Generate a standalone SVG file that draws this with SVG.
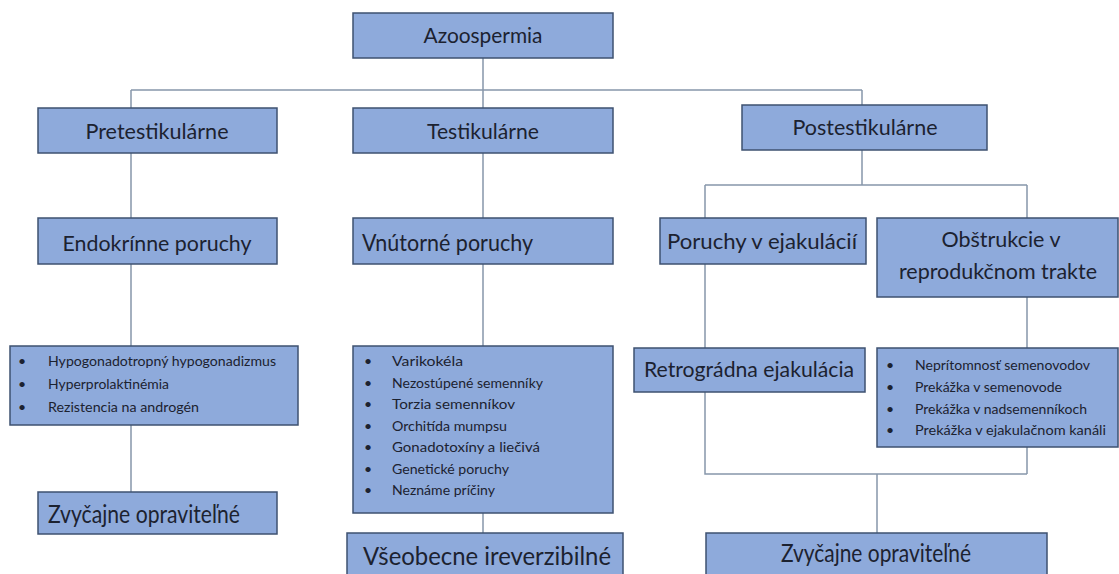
<svg xmlns="http://www.w3.org/2000/svg" width="1119" height="574" viewBox="0 0 1119 574">
<style>
.box{fill:#8eaadb;stroke:#3e5170;stroke-width:1.5}
.ln{fill:none;stroke:#8797ab;stroke-width:1.5}
text{font-family:Lato,"Liberation Sans",sans-serif;fill:#1c2230}
.h1{font-size:21px;text-anchor:middle}
.h2{font-size:22px;text-anchor:middle}
.h2l{font-size:23px}
.h3{font-size:25px;text-anchor:middle}
.h3l{font-size:25px}
.li{font-size:14px}
.bu{font-size:14px;text-anchor:middle}
</style>
<rect width="1119" height="574" fill="#ffffff"/>
<g id="connectors">
<path class="ln" d="M483,58V90M131,90H862M131,90V108M483,90V108M862,90V105"/>
<path class="ln" d="M131,153V218M131,264V346M131,425V492"/>
<path class="ln" d="M483,153V218M483,264V346M483,513V533"/>
<path class="ln" d="M862,150V185M705,185H1027M705,185V218M1027,185V218"/>
<path class="ln" d="M705,264V474H1027M1027,297V348M1027,447V474M877,474V533"/>
</g>
<g id="azoospermia"><rect class="box" x="353" y="13" width="260" height="45"/><text class="h1" x="483" y="43" textLength="119" lengthAdjust="spacingAndGlyphs">Azoospermia</text></g>
<g id="pretestikularne"><rect class="box" x="38" y="108" width="239" height="45"/><text class="h1" x="157" y="139" textLength="143" lengthAdjust="spacingAndGlyphs">Pretestikulárne</text></g>
<g id="testikularne"><rect class="box" x="353" y="108" width="260" height="45"/><text class="h1" x="483" y="139" textLength="112" lengthAdjust="spacingAndGlyphs">Testikulárne</text></g>
<g id="postestikularne"><rect class="box" x="742" y="105" width="245" height="45"/><text class="h1" x="865" y="135" textLength="145" lengthAdjust="spacingAndGlyphs">Postestikulárne</text></g>
<g id="endokrinne"><rect class="box" x="38" y="218" width="239" height="46"/><text class="h2" x="157" y="251" textLength="189" lengthAdjust="spacingAndGlyphs">Endokrínne poruchy</text></g>
<g id="vnutorne"><rect class="box" x="353" y="218" width="260" height="46"/><text class="h2l" x="362" y="251" textLength="171" lengthAdjust="spacingAndGlyphs">Vnútorné poruchy</text></g>
<g id="poruchy-ejakulacii"><rect class="box" x="660" y="218" width="206" height="46"/><text class="h2" x="762" y="249" textLength="190" lengthAdjust="spacingAndGlyphs">Poruchy v ejakulácií</text></g>
<g id="obstrukcie"><rect class="box" x="877" y="218" width="241" height="79"/><text class="h2" x="1001" y="247" textLength="119" lengthAdjust="spacingAndGlyphs">Obštrukcie v</text><text class="h2" x="998" y="279" textLength="198" lengthAdjust="spacingAndGlyphs">reprodukčnom trakte</text></g>
<g id="endokrinne-list"><rect class="box" x="10" y="346" width="288" height="79"/>
<text class="bu" x="22" y="366">•</text><text class="bu" x="22" y="389">•</text><text class="bu" x="22" y="412">•</text>
<text class="li" x="48" y="366" textLength="228" lengthAdjust="spacingAndGlyphs">Hypogonadotropný  hypogonadizmus</text>
<text class="li" x="48" y="389" textLength="121" lengthAdjust="spacingAndGlyphs">Hyperprolaktinémia</text>
<text class="li" x="48" y="412" textLength="151" lengthAdjust="spacingAndGlyphs">Rezistencia na androgén</text></g>
<g id="vnutorne-list"><rect class="box" x="353" y="346" width="260" height="167"/>
<text class="bu" x="368" y="366">•</text><text class="bu" x="368" y="387.5">•</text><text class="bu" x="368" y="409">•</text><text class="bu" x="368" y="430.5">•</text><text class="bu" x="368" y="452">•</text><text class="bu" x="368" y="473.5">•</text><text class="bu" x="368" y="495">•</text>
<text class="li" x="392" y="366" textLength="71" lengthAdjust="spacingAndGlyphs">Varikokéla</text>
<text class="li" x="392" y="387.5" textLength="151" lengthAdjust="spacingAndGlyphs">Nezostúpené semenníky</text>
<text class="li" x="392" y="409" textLength="123" lengthAdjust="spacingAndGlyphs">Torzia semenníkov</text>
<text class="li" x="392" y="430.5" textLength="115" lengthAdjust="spacingAndGlyphs">Orchitída mumpsu</text>
<text class="li" x="392" y="452" textLength="148" lengthAdjust="spacingAndGlyphs">Gonadotoxíny a liečivá</text>
<text class="li" x="392" y="473.5" textLength="117" lengthAdjust="spacingAndGlyphs">Genetické poruchy</text>
<text class="li" x="392" y="495" textLength="103" lengthAdjust="spacingAndGlyphs">Neznáme príčiny</text></g>
<g id="retrogradna"><rect class="box" x="634" y="348" width="231" height="44"/><text class="h2" x="749" y="377" textLength="210" lengthAdjust="spacingAndGlyphs">Retrográdna ejakulácia</text></g>
<g id="obstrukcie-list"><rect class="box" x="877" y="348" width="241" height="99"/>
<text class="bu" x="890" y="370">•</text><text class="bu" x="890" y="392">•</text><text class="bu" x="890" y="413.5">•</text><text class="bu" x="890" y="435">•</text>
<text class="li" x="915" y="370" textLength="175" lengthAdjust="spacingAndGlyphs">Neprítomnosť semenovodov</text>
<text class="li" x="915" y="392" textLength="147" lengthAdjust="spacingAndGlyphs">Prekážka v semenovode</text>
<text class="li" x="915" y="413.5" textLength="172" lengthAdjust="spacingAndGlyphs">Prekážka v nadsemenníkoch</text>
<text class="li" x="915" y="435" textLength="191" lengthAdjust="spacingAndGlyphs">Prekážka v ejakulačnom kanáli</text></g>
<g id="zvycajne-left"><rect class="box" x="38" y="492" width="239" height="42"/><text class="h3l" x="48" y="523" textLength="192" lengthAdjust="spacingAndGlyphs">Zvyčajne opraviteľné</text></g>
<g id="vseobecne"><rect class="box" x="347" y="533" width="276" height="50"/><text class="h3" x="487" y="565" textLength="248" lengthAdjust="spacingAndGlyphs">Všeobecne ireverzibilné</text></g>
<g id="zvycajne-right"><rect class="box" x="706" y="533" width="341" height="50"/><text class="h3" x="876" y="562" textLength="190" lengthAdjust="spacingAndGlyphs">Zvyčajne opraviteľné</text></g>
</svg>
